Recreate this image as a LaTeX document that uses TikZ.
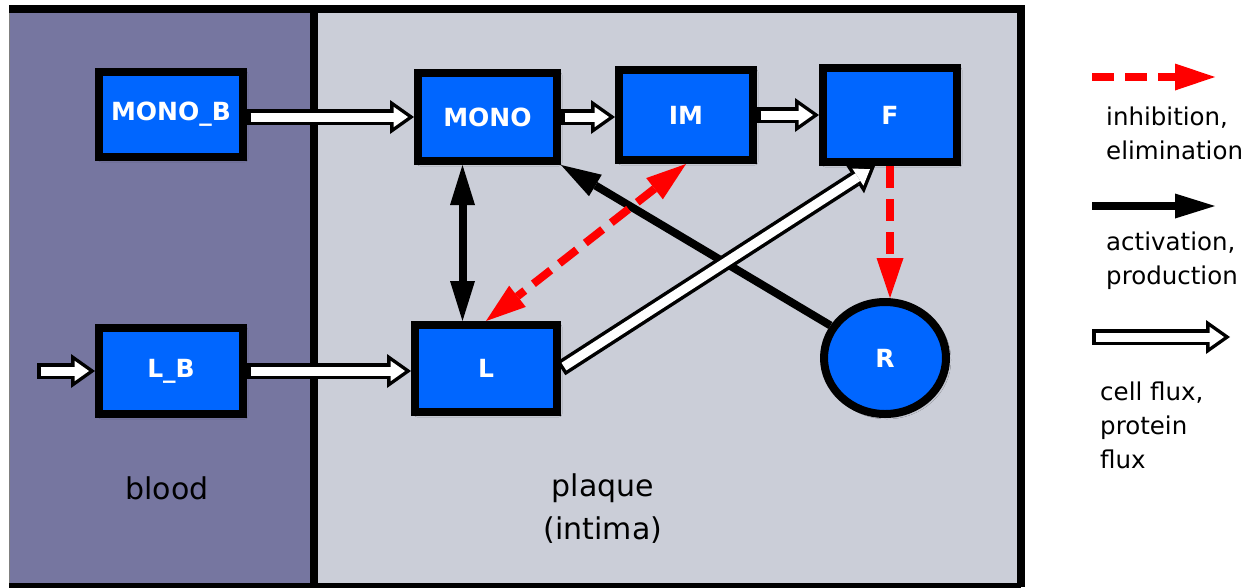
\documentclass[tikz,border=0pt]{standalone}
\usepackage{fontspec}
\setmainfont{DejaVu Sans}
\usetikzlibrary{positioning,arrows.meta,shadows.blur,shapes.geometric,calc}

\definecolor{bloodbg}{RGB}{118,118,160}
\definecolor{plaquebg}{RGB}{203,206,216}
\definecolor{cellblue}{RGB}{0,102,255}

\begin{document}
\begin{tikzpicture}[
    x=1pt, y=-1pt,
    box/.style={draw, rectangle, line width=8pt, fill=cellblue, text=white, font=\bfseries\fontsize{25}{30}\selectfont, minimum width=140pt, minimum height=88pt, blur shadow={shadow xshift=2pt, shadow yshift=-2pt, shadow blur radius=3pt, shadow opacity=30}},
    rbox/.style={box, ellipse, minimum width=122pt, minimum height=112pt},
    areatext/.style={anchor=base, align=center, inner sep=0pt, font=\fontsize{30}{43}\selectfont},
    legtext/.style={anchor=base west, align=left, inner sep=0pt, font=\fontsize{24.5}{34}\selectfont},
    flux/.style={line width=16pt, -{Triangle[length=24pt, width=34pt, line width=0pt]}, postaction={draw, white, line width=9pt, shorten <=3.5pt, shorten >=6pt, -{Triangle[length=14.4pt, width=20.4pt, line width=0pt]}}},
    act/.style={line width=8pt, >={Triangle[length=40pt, width=25pt, line width=0pt]}, ->},
    inh/.style={red, line width=8pt, dash pattern=on 22pt off 11pt, >={Triangle[length=40pt, width=27pt, line width=0pt]}, ->}
]

% canvas and compartments
\fill[white] (0,0) rectangle (1257,587);
\useasboundingbox (0,0) rectangle (1257,587);
\fill[bloodbg] (9,9) rectangle (314,587);
\fill[plaquebg] (314,9) rectangle (1021,587);
\draw[line width=1pt, gray] (9,9) -- (9,587);
\draw[line width=8pt] (9,9) -- (1021,9) -- (1021,587);
\draw[line width=8pt] (9,587) -- (1021,587);
\draw[line width=8pt] (314,9) -- (314,587);

% multi-line nodes sit on the baseline of their last line
\node[areatext] (blood) at (167,499) {blood};
\node[areatext] (plaque) at (603,539) {plaque\\(intima)};

% top row (left -> right)
\node[box, minimum width=144pt, minimum height=85pt] (monob) at (171,114.5) {MONO\_B};
\node[box, minimum width=139pt, minimum height=88pt] (mono) at (487.5,117) {MONO};
\node[box, minimum width=134pt, minimum height=90pt] (im) at (686,115) {IM};
\node[box, minimum width=134pt, minimum height=94pt] (f) at (890,115) {F};

% bottom row
\node[box, minimum width=144pt, minimum height=86pt] (lb) at (171,371) {L\_B};
\node[box, minimum width=142pt, minimum height=87pt] (l) at (486,368.5) {L};
\node[rbox] (r) at (885,358) {R};
\coordinate (lsrc) at (37,371);

\draw[flux] (monob.east |- mono.west) -- (mono.west);
\draw[flux] (mono.east) -- (mono.east -| im.west);
\draw[flux] (im.east) -- (im.east -| f.west);
\draw[flux] (lsrc) -- (lsrc -| lb.west);
\draw[flux] (lb.east) -- (lb.east -| l.west);
\draw[act] (r) -- (mono.south east);
\draw[flux] (l.east) -- ([xshift=-15pt]f.south);
\draw[act, <->] ([xshift=-25pt]mono.south) -- ([xshift=-25pt]mono.south |- l.north);
\draw[inh, <->] (im.south) -- (l.north);
\draw[inh] (f.south) -- (f.south |- r.north);

% legend
\coordinate (inhs) at (1092,77);
\coordinate (inhe) at (1215,77);
\coordinate (acts) at (1092,206);
\coordinate (acte) at (1215,206);
\coordinate (fluxs) at (1092,337);
\coordinate (fluxe) at (1230,337);

\draw[inh] (inhs) -- (inhe);
\draw[act] (acts) -- (acte);
\draw[flux] (fluxs) -- (fluxe);

\node[legtext] (inhtext) at (1106,159) {inhibition,\\elimination};
\node[legtext] (acttext) at (1106,284) {activation,\\production};
\node[legtext] (fluxtext) at (1100,468) {cell flux,\\protein\\flux};

\end{tikzpicture}
\end{document}
